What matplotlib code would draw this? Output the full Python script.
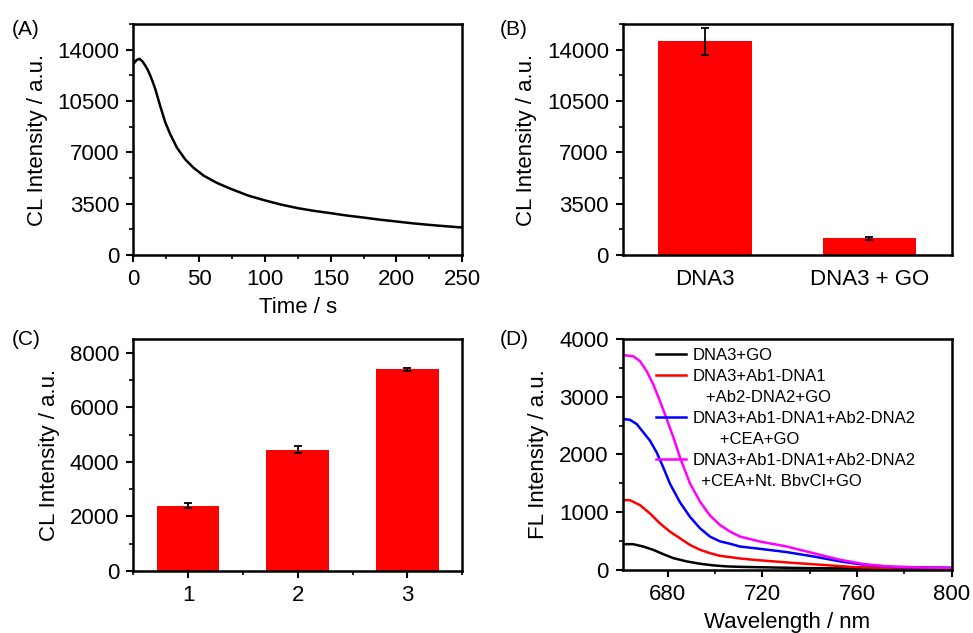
import matplotlib
matplotlib.use("Agg")
from matplotlib import pyplot as plt
from matplotlib.lines import Line2D
from matplotlib.ticker import MultipleLocator

plt.rcParams['font.family'] = ['Liberation Sans', 'DejaVu Sans']
plt.rcParams['axes.linewidth'] = 1.8
plt.rcParams['xtick.major.width'] = 1.5
plt.rcParams['ytick.major.width'] = 1.5
plt.rcParams['xtick.minor.width'] = 1.2
plt.rcParams['ytick.minor.width'] = 1.2

# (A) CL kinetics
time_s = [0.8, 2.5, 4.8, 7, 9.1, 11, 12.9, 14.8, 16.7, 18.6, 20.5, 24.3, 28.1, 33.2, 39.5,
          45.8, 53.4, 63.6, 73.7, 87.6, 100, 112, 125, 137, 150, 162, 175, 187, 200, 212,
          225, 237, 250]
cl_kinetic = [13110, 13300, 13380, 13200, 12920, 12620, 12240, 11800, 11320, 10740, 10150,
              9050, 8235, 7320, 6520, 5950, 5420, 4920, 4530, 4050, 3730, 3450, 3200, 3020,
              2860, 2700, 2560, 2420, 2290, 2170, 2060, 1970, 1880]

# (B) DNA3 vs DNA3 + GO
b_labels = ['DNA3', 'DNA3 + GO']
b_values = [14570, 1150]
b_errors = [920, 110]

# (C) groups 1-3
c_labels = ['1', '2', '3']
c_values = [2400, 4450, 7400]
c_errors = [80, 140, 60]

# (D) FL spectra
wl_go = [661.2, 665.4, 669.7, 673.9, 678.1, 682.4, 688, 693.7, 699.3, 705, 712, 720, 730,
         740, 752, 765, 780, 800]
fl_go = [443, 443, 402, 345, 270, 201, 144, 103, 75, 57, 48, 42, 34, 27, 24, 22, 21, 20]
wl_ab = [661.2, 664, 668.3, 672.5, 676.7, 681, 685.2, 689.4, 693.7, 697.9, 702.1, 706.4,
         710.6, 716.3, 730.4, 744.4, 758.5, 772.7, 786.8, 800]
fl_ab = [1207, 1207, 1121, 977, 805, 660, 546, 431, 345, 287, 241, 218, 195, 172, 126, 86,
         46, 30, 26, 25]
wl_cea = [661.2, 664, 666.9, 669.7, 672.5, 675.3, 678.1, 681, 685.2, 689.4, 693.7, 697.9,
          702.1, 706.4, 710.6, 719.1, 730.4, 741.6, 752.9, 762.8, 775.5, 800]
fl_cea = [2615, 2603, 2529, 2385, 2241, 2040, 1780, 1490, 1170, 919, 718, 574, 492, 450,
          402, 362, 305, 230, 144, 86, 46, 34]
wl_nick = [661.2, 665.4, 668.3, 671.1, 673.9, 676.7, 679.6, 682.4, 685.2, 689.4, 693.7,
           697.9, 702.1, 706.4, 710.6, 719.1, 730.4, 741.6, 752.9, 762.8, 772.7, 786.8, 800]
fl_nick = [3724, 3707, 3620, 3448, 3219, 2931, 2615, 2298, 1950, 1500, 1180, 940, 776, 660,
           574, 488, 402, 287, 172, 98, 57, 40, 30]
d_labels = ['DNA3+GO', 'DNA3+Ab1-DNA1', '   +Ab2-DNA2+GO',
            'DNA3+Ab1-DNA1+Ab2-DNA2', '      +CEA+GO',
            'DNA3+Ab1-DNA1+Ab2-DNA2', '  +CEA+Nt. BbvCI+GO']

fig = plt.figure(figsize=(9.73, 6.33), dpi=100)
ax_a = fig.add_axes([0.137, 0.597, 0.338, 0.365])
ax_b = fig.add_axes([0.640, 0.597, 0.338, 0.365])
ax_c = fig.add_axes([0.137, 0.098, 0.338, 0.366])
ax_d = fig.add_axes([0.640, 0.100, 0.338, 0.364])

fs = 16

for ax in [ax_a, ax_b, ax_c, ax_d]:
    ax.tick_params(which='both', direction='out', top=False, right=False, labelsize=fs)
    ax.tick_params(which='major', length=5, pad=5)
    ax.tick_params(which='minor', length=3)

# A
ax_a.plot(time_s, cl_kinetic, color='black', lw=1.8)
ax_a.set_xlim(0, 250)
ax_a.set_ylim(0, 15750)
ax_a.set_yticks([0, 3500, 7000, 10500, 14000])
ax_a.yaxis.set_minor_locator(MultipleLocator(1750))
ax_a.xaxis.set_major_locator(MultipleLocator(50))
ax_a.xaxis.set_minor_locator(MultipleLocator(25))
ax_a.set_xlabel('Time / s', fontsize=fs, labelpad=5)
ax_a.set_ylabel('CL Intensity / a.u.', fontsize=fs, labelpad=7)

# B
b_pos = [1, 2]
ax_b.bar(b_pos, b_values, width=0.57, color='#ff0000', yerr=b_errors,
         error_kw=dict(ecolor='black', elinewidth=1.3, capsize=3, capthick=1.3))
ax_b.set_xlim(0.5, 2.5)
ax_b.set_ylim(0, 15750)
ax_b.set_yticks([0, 3500, 7000, 10500, 14000])
ax_b.yaxis.set_minor_locator(MultipleLocator(1750))
ax_b.set_xticks(b_pos)
ax_b.set_xticklabels(b_labels)
ax_b.tick_params(axis='x', length=0, pad=10)
ax_b.set_ylabel('CL Intensity / a.u.', fontsize=fs, labelpad=7)

# C
c_pos = [1, 2, 3]
ax_c.bar(c_pos, c_values, width=0.57, color='#ff0000', yerr=c_errors,
         error_kw=dict(ecolor='black', elinewidth=1.3, capsize=3, capthick=1.3))
ax_c.set_xlim(0.5, 3.5)
ax_c.set_ylim(0, 8500)
ax_c.set_yticks([0, 2000, 4000, 6000, 8000])
ax_c.yaxis.set_minor_locator(MultipleLocator(1000))
ax_c.set_xticks(c_pos)
ax_c.set_xticklabels(c_labels)
ax_c.xaxis.set_minor_locator(MultipleLocator(0.5))
ax_c.set_ylabel('CL Intensity / a.u.', fontsize=fs, labelpad=7)

# D
ax_d.plot(wl_go, fl_go, color='black', lw=1.8)
ax_d.plot(wl_ab, fl_ab, color='#ff0000', lw=1.8)
ax_d.plot(wl_cea, fl_cea, color='#0000ff', lw=1.8)
ax_d.plot(wl_nick, fl_nick, color='#ff00ff', lw=1.8)
ax_d.set_xlim(661, 800)
ax_d.set_ylim(0, 4000)
ax_d.set_xticks([680, 720, 760, 800])
ax_d.xaxis.set_minor_locator(MultipleLocator(20))
ax_d.yaxis.set_major_locator(MultipleLocator(1000))
ax_d.yaxis.set_minor_locator(MultipleLocator(500))
ax_d.set_xlabel('Wavelength / nm', fontsize=fs, labelpad=5)
ax_d.set_ylabel('FL Intensity / a.u.', fontsize=fs, labelpad=7)

blank = Line2D([], [], color='none')
handles = [Line2D([], [], color='black', lw=1.8),
           Line2D([], [], color='#ff0000', lw=1.8), blank,
           Line2D([], [], color='#0000ff', lw=1.8), blank,
           Line2D([], [], color='#ff00ff', lw=1.8), blank]
ax_d.legend(handles, d_labels, loc='upper left', bbox_to_anchor=(0.075, 1.0),
            frameon=False, fontsize=12, labelspacing=0.36, handlelength=1.8,
            handletextpad=0.4, borderaxespad=0.1)

fig.text(0.012, 0.953, '(A)', fontsize=15, va='center')
fig.text(0.514, 0.953, '(B)', fontsize=15, va='center')
fig.text(0.012, 0.463, '(C)', fontsize=15, va='center')
fig.text(0.514, 0.463, '(D)', fontsize=15, va='center')

fig.savefig('out.png', dpi=100)
